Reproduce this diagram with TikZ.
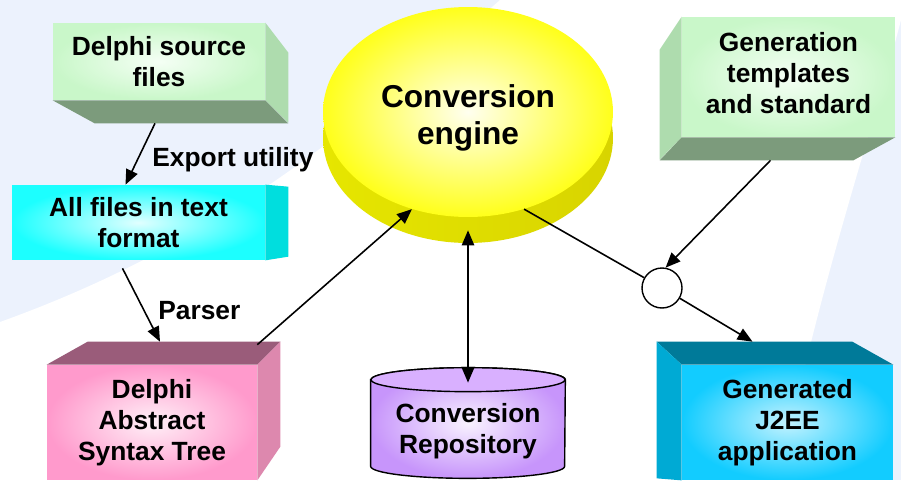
\documentclass[tikz,border=0pt]{standalone}
\usepackage{fontspec}
\setmainfont{Liberation Sans}
\usetikzlibrary{shapes.geometric, arrows.meta}
\definecolor{bgblue}{HTML}{ECF2FD}
\definecolor{grfront}{HTML}{C9F7C9}
\definecolor{grside}{HTML}{AEDCAE}
\definecolor{grbase}{HTML}{7C9B7C}
\definecolor{cyfront}{HTML}{1CFFFF}
\definecolor{cyside}{HTML}{00DEDE}
\definecolor{pkfront}{HTML}{FF9ACC}
\definecolor{pktop}{HTML}{9A5C7A}
\definecolor{pkside}{HTML}{DD88AE}
\definecolor{blfront}{HTML}{12CCFF}
\definecolor{bltop}{HTML}{007A99}
\definecolor{blside}{HTML}{00AAD4}
\definecolor{vifront}{HTML}{C795FB}
\definecolor{vitop}{HTML}{D9B0FF}
\definecolor{yetop}{HTML}{FFFF1A}

\begin{document}
\begin{tikzpicture}[x=0.02cm, y=-0.02cm,
  box/.style={rectangle, inner sep=0pt, align=center,
    font=\fontsize{15}{17.5}\selectfont\bfseries},
  lbl/.style={inner sep=0pt, anchor=west, font=\fontsize{15}{17.5}\selectfont\bfseries},
  arr/.style={-{Triangle[length=8.5pt, width=7pt]}, line width=0.9pt},
  dbl/.style={{Triangle[length=8.5pt, width=7pt]}-{Triangle[length=8.5pt, width=7pt]}, line width=0.9pt}]
\useasboundingbox (0,0) rectangle (901,480);
\fill[bgblue] (0,0) rectangle (901,480);
\fill[white] (500,0) -- (901,0) -- (901,20) .. controls (870,140) and (820,280) .. (780,480)
  -- (0,480) -- (0,322) .. controls (200,250) and (330,150) .. (500,0) -- cycle;

\node[box, minimum width=4.24cm, minimum height=1.54cm, inner color=green!4!white, outer color=grfront] (src) at (159,61.5) {Delphi source\\files};
\fill[grside] (src.north east) -- ++(23,30) -- ++(0,70) -- (src.south east) -- cycle;
\fill[grbase] (src.south west) -- (src.south east) -- ++(23,23) -- ([shift={(42,23)}]src.south west) -- cycle;

\node[box, minimum width=5.06cm, minimum height=1.5cm, inner color=cyan!12!white, outer color=cyfront] (txt) at (138.5,222.5) {All files in text\\format};
\fill[cyside] (txt.north east) -- ++(23,2) -- ++(0,70) -- (txt.south east) -- cycle;

\node[box, minimum width=4.2cm, minimum height=2.3cm, inner color=pkfront!15!white, outer color=pkfront] (ast) at (152,422.5) {Delphi\\Abstract\\Syntax Tree};
\fill[pktop] ([shift={(41,-23)}]ast.north west) -- ([shift={(23,-23)}]ast.north east) -- (ast.north east) -- (ast.north west) -- cycle;
\fill[pkside] (ast.north east) -- ++(23,-23) -- ++(0,105) -- (ast.south east) -- cycle;

\node[box, minimum width=4.26cm, minimum height=2.4cm, inner color=green!4!white, outer color=grfront] (gen) at (788.5,77) {};
\node[box] (gentxt) at ([shift={(0,-4)}]gen.center) {Generation\\templates\\and standard};
\fill[grside] (gen.north west) -- ++(-22,33) -- ++(0,110) -- (gen.south west) -- cycle;
\fill[grbase] (gen.south west) -- (gen.south east) -- ++(-42,23) -- ([shift={(-22,23)}]gen.south west) -- cycle;

\node[box, minimum width=4.22cm, minimum height=2.3cm, inner color=blfront!25!white, outer color=blfront] (app) at (787.5,422.5) {Generated\\J2EE\\application};
\fill[bltop] ([shift={(-25,-23)}]app.north west) -- ([shift={(-41,-23)}]app.north east) -- (app.north east) -- (app.north west) -- cycle;
\fill[blside] ([shift={(-25,-23)}]app.north west) -- (app.north west) -- (app.south west) -- ++(-25,-2) -- cycle;

\node[ellipse, inner sep=0pt, minimum width=5.8cm, minimum height=4.2cm, left color={rgb,255:red,230;green,230;blue,0}, middle color={rgb,255:red,163;green,154;blue,0}, right color={rgb,255:red,216;green,212;blue,0}] (engb) at (468,138) {};
\node[ellipse, inner sep=0pt, minimum width=5.8cm, minimum height=4.2cm, inner color=yellow!6!white, outer color=yetop] (eng) at (468,112) {};
\node[align=center, inner sep=0pt, font=\fontsize{18}{21.5}\selectfont\bfseries] (engtxt) at ([shift={(0,6)}]eng.center) {Conversion\\engine};

\node[box, minimum width=3.88cm, minimum height=1.72cm] (repo) at (468,423) {};
\shade[draw=black, line width=0.8pt, inner color=vifront!12!white, outer color=vifront] (repo.north west) -- (repo.south west)
  arc[start angle=180, end angle=360, x radius=1.94cm, y radius=0.24cm] -- (repo.north east)
  arc[start angle=0, end angle=180, x radius=1.94cm, y radius=0.24cm] -- cycle;
\filldraw[fill=vitop, line width=0.8pt] (repo.north) ellipse[x radius=1.94cm, y radius=0.24cm];
\node[box, anchor=center] (repotxt) at ([shift={(0,8)}]repo.center) {Conversion\\Repository};

\node[circle, draw, fill=white, line width=0.8pt, minimum size=0.8cm, inner sep=0pt] (jn) at (662,288) {};

\node[lbl] (export) at (152,160) {Export utility};
\node[lbl] (parser) at (158,311) {Parser};

\draw[arr] ([shift={(-4,23)}]src.south) -- ([shift={(-13,0)}]txt.north);
\draw[arr] ([shift={(-16,8)}]txt.south) -- ([shift={(8,-23)}]ast.north);
\draw[arr] ([shift={(0,-20)}]ast.north east) -- (eng.240);
\draw[dbl] ([shift={(0,13)}]eng.south) -- ([shift={(0,3)}]repo.north);
\draw[line width=0.9pt] (eng.300) -- (jn.150);
\draw[arr] ([shift={(-18,23)}]gen.south) -- (jn.80);
\draw[arr] (jn.330) -- ([shift={(-35,-23)}]app.north);
\end{tikzpicture}
\end{document}
